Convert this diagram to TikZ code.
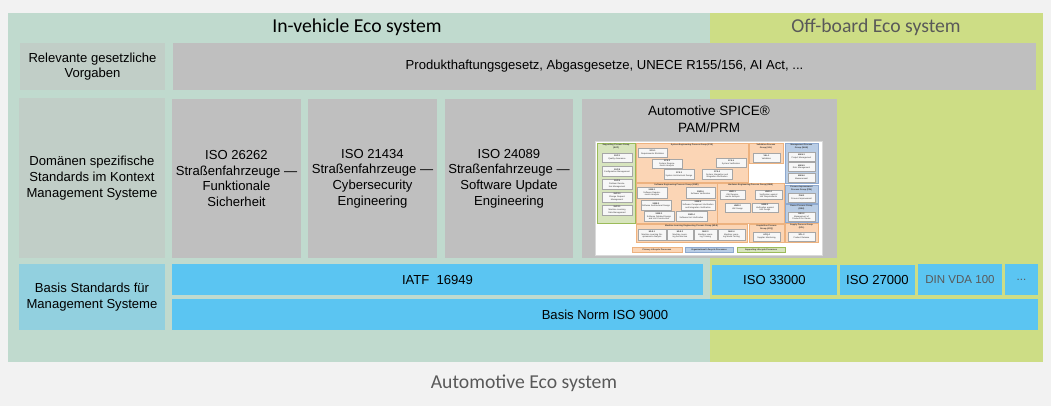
\documentclass[tikz,border=0pt]{standalone}
\usepackage{fontspec}
\setmainfont{Liberation Sans}
\newfontfamily\calibri{Carlito}

\definecolor{paper}{HTML}{F2F2F2}
\definecolor{invehicle}{HTML}{C0DACE}
\definecolor{offboard}{HTML}{CDDD85}
\definecolor{rowlabel}{HTML}{C1CEC7}
\definecolor{stdgray}{HTML}{BFBFBF}
\definecolor{stdblue}{HTML}{5BC5F2}
\definecolor{baselabel}{HTML}{92D0DF}
\definecolor{softtext}{HTML}{595959}
\definecolor{primaryfill}{HTML}{FBD5B5}
\definecolor{primaryline}{HTML}{EDB27F}
\definecolor{orgfill}{HTML}{B9CDE5}
\definecolor{orgline}{HTML}{8EA9CF}
\definecolor{supportfill}{HTML}{D7E4BD}
\definecolor{supportline}{HTML}{9BBB59}

\tikzset{
  lbl/.style={align=center, inner sep=0pt, text=black, font=\fontsize{9.3}{11.2}\selectfont},
  eco/.style={inner sep=0pt, font=\calibri\fontsize{14}{16}\selectfont},
  grptitle/.style={align=center, inner sep=0pt, text=black!80, font=\bfseries\fontsize{1.5}{1.8}\selectfont},
  procbox/.style={fill=gray!6, draw=gray!70, line width=0.25pt},
}

% process box of the PAM chart: (x1,y1)(x2,y2){name}{id}{title}
\def\proc(#1,#2)(#3,#4)#5#6#7{%
  \pgfmathsetmacro\procw{(#3-#1)*0.7113-0.8}%
  \draw[procbox] (#1,#2) rectangle node[align=center, inner sep=0pt, text width=\procw pt,
    text=black!80, font=\fontsize{1.5}{1.8}\selectfont] (#5) {\textbf{#6}\\#7} (#3,#4);}
% process group: (x1,y1)(x2,y2){name}{kind}{title}
\def\pgroup(#1,#2)(#3,#4)#5#6#7{%
  \draw[fill=#6fill, draw=#6line, line width=0.4pt] (#1,#2) rectangle (#3,#4);
  \node[grptitle, anchor=north] (#5) at ({(#1+#3)/2},#2+0.8) {#7};}

\begin{document}
\begin{tikzpicture}[x=0.025cm, y=-0.025cm]

% Background
\fill[paper] (0,0) rectangle (1051,406);
\useasboundingbox (0,0) rectangle (1051,406);

% Eco systems
\fill[invehicle] (8,13) rectangle (710,362);
\fill[offboard] (710,13) rectangle (1043,362);
\node[eco] (inveh) at (357,27) {In-vehicle Eco system};
\node[eco, text=softtext] (offb) at (876,27) {Off-board Eco system};
\node[eco, text=softtext] (auto) at (524,383) {Automotive Eco system};

% Legal requirements
\fill[rowlabel] (20,43) rectangle node[lbl] (lawlbl) {Relevante gesetzliche\\Vorgaben} (165,90);
\fill[stdgray] (173,43) rectangle node[lbl] (law)
  {Produkthaftungsgesetz, Abgasgesetze, UNECE R155/156, AI Act, ...} (1036,90);

% Domain standards
\fill[rowlabel] (19,98) rectangle node[lbl] (domlbl)
  {Domänen spezifische\\Standards im Kontext\\Management Systeme} (165,258);
\fill[stdgray] (172,99) rectangle node[lbl] (iso26262)
  {ISO 26262\\Straßenfahrzeuge —\\Funktionale\\Sicherheit} (301,258);
\fill[stdgray] (308,99) rectangle node[lbl] (iso21434)
  {ISO 21434\\Straßenfahrzeuge —\\Cybersecurity\\Engineering} (437,258);
\fill[stdgray] (445,99) rectangle node[lbl] (iso24089)
  {ISO 24089\\Straßenfahrzeuge —\\Software Update\\Engineering} (573,258);
\fill[stdgray] (582,99) rectangle (837,258);
\node[lbl, font=\fontsize{9.6}{12.2}\selectfont] (spice) at (709,119) {Automotive SPICE®\\PAM/PRM};

% PAM/PRM process chart
\draw[fill=white, draw=gray!30, line width=0.4pt] (595,141) rectangle (822,255);

\pgroup(597,143)(635,223){sup}{support}{Supporting Process Group\\(SUP)}
\proc(602,153)(632,162){sup1}{SUP.1}{Quality Assurance}
\proc(602,166)(632,176){sup8}{SUP.8}{Configuration Management}
\proc(602,179)(632,189){sup9}{SUP.9}{Problem Resolution Management}
\proc(602,192)(632,202){sup10}{SUP.10}{Change Request Management}
\proc(602,205)(632,215){sup11}{SUP.11}{Machine Learning Data Management}

\pgroup(636,143)(748,182){sys}{primary}{System Engineering Process Group (SYS)}
\proc(638,148)(667,157){sys1}{SYS.1}{Requirements Elicitation}
\proc(652,159)(682,168){sys2}{SYS.2}{System Requirements Analysis}
\proc(664,169.5)(694,179.5){sys3}{SYS.3}{System Architectural Design}
\proc(702,169.5)(732,179.5){sys4}{SYS.4}{System Integration and Integration Verification}
\proc(716,158)(746,167){sys5}{SYS.5}{System Verification}

\pgroup(749,143)(783,163.5){val}{primary}{Validation Process\\Group (VAL)}
\proc(753,153)(780,162){val1}{VAL.1}{Validation}

\pgroup(785,143)(818,183.5){man}{org}{Management Process\\Group (MAN)}
\proc(788,152)(815,161){man3}{MAN.3}{Project Management}
\proc(788,162.5)(815,171.5){man5}{MAN.5}{Risk Management}
\proc(788,173)(815,182){man6}{MAN.6}{Measurement}

\pgroup(785,185)(818,203){pim}{org}{Process Improvement\\Process Group (PIM)}
\proc(788,193)(815,202){pim3}{PIM.3}{Process Improvement}
\pgroup(785,204)(818,222){reu}{org}{Reuse Process Group\\(REU)}
\proc(788,212)(815,221){reu2}{REU.2}{Management of Products for Reuse}
\pgroup(785,223)(818,242){spl}{primary}{Supply Process Group\\(SPL)}
\proc(788,232)(815,241){spl2}{SPL.2}{Product Release}

\pgroup(636,183)(717,223){swe}{primary}{Software Engineering Process Group (SWE)}
\proc(637,187.5)(667,198){swe1}{SWE.1}{Software Requirements Analysis}
\proc(686,187.5)(715,198){swe6}{SWE.6}{Software Verification}
\proc(641,200)(671,210){swe2}{SWE.2}{Software Architectural Design}
\proc(681,200)(715,210){swe5}{SWE.5}{Software Component Verification and Integration Verification}
\proc(644,211.5)(674,221.5){swe3}{SWE.3}{Software Detailed Design and Unit Construction}
\proc(676,211.5)(707,221.5){swe4}{SWE.4}{Software Unit Verification}

\pgroup(717,183)(784,223){hwe}{primary}{Hardware Engineering Process Group (HWE)}
\proc(720,190)(745,199){hwe1}{HWE.1}{HW Requirements Analysis}
\proc(755,190)(782,199){hwe4}{HWE.4}{Verification against HW Requirements}
\proc(725,203)(750,212){hwe2}{HWE.2}{HW Design}
\proc(752,203)(778,212){hwe3}{HWE.3}{Verification against HW Design}

\pgroup(636,224)(747,242){mle}{primary}{Machine Learning Engineering Process Group (MLE)}
\proc(638,229)(666,240){mle1}{MLE.1}{Machine Learning Requirements Analysis}
\proc(667,229)(693,240){mle2}{MLE.2}{Machine Learning Architecture}
\proc(694,229)(717,240){mle3}{MLE.3}{Machine Learning Training}
\proc(718,229)(745,240){mle4}{MLE.4}{Machine Learning Model Testing}

\pgroup(749,224)(784,242){acq}{primary}{Acquisition Process\\Group (ACQ)}
\proc(753,232)(780,241){acq4}{ACQ.4}{Supplier Monitoring}

% chart legend
\draw[fill=primaryfill, draw=primaryline, line width=0.3pt] (632,247) rectangle
  node[grptitle] (lgprim) {Primary Lifecycle Processes} (682,252.5);
\draw[fill=orgfill, draw=orgline, line width=0.3pt] (685,247) rectangle
  node[grptitle] (lgorg) {Organizational Lifecycle Processes} (733,252.5);
\draw[fill=supportfill, draw=supportline, line width=0.3pt] (737,247) rectangle
  node[grptitle] (lgsup) {Supporting Lifecycle Processes} (785,252.5);

% Base standards
\fill[baselabel] (19,264) rectangle node[lbl] (baselbl) {Basis Standards für\\Management Systeme} (165,330);
\fill[stdblue] (172,264) rectangle node[lbl] (iatf) {IATF\ \ 16949} (703,295);
\fill[stdblue] (712,265) rectangle node[lbl] (iso33000) {ISO 33000} (837,295);
\fill[stdblue] (840,265) rectangle node[lbl] (iso27000) {ISO 27000} (915,295);
\fill[stdblue] (918,264) rectangle node[lbl, text=softtext, font=\fontsize{8.2}{10}\selectfont] (vda) {DIN VDA 100} (1002,295);
\fill[stdblue] (1005,264) rectangle node[lbl, text=softtext, font=\fontsize{8.2}{10}\selectfont] (more) {...} (1038,295);
\fill[stdblue] (172,299) rectangle node[lbl] (iso9000) {Basis Norm ISO 9000} (1038,330);

\end{tikzpicture}
\end{document}
